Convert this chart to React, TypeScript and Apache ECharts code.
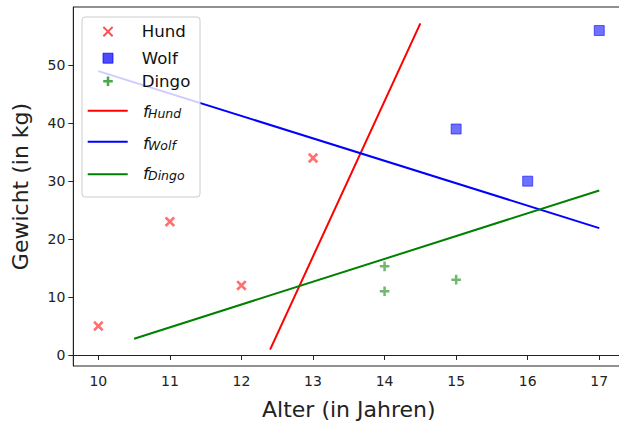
import React, { useEffect, useRef } from "react";
import * as echarts from "echarts";

// Data
const hundAge = [10, 11, 12, 13];
const hundWeight = [5, 23, 12, 34];
const wolfAge = [15, 16, 17];
const wolfWeight = [39, 30, 56];
const dingoAge = [14, 14, 15];
const dingoWeight = [15.3, 11, 13];

const fHundX = [12.4, 14.5];
const fHundY = [0.92, 57.24];
const fWolfX = [10, 17];
const fWolfY = [49.0, 21.9];
const fDingoX = [10.5, 17];
const fDingoY = [2.8, 28.4];

const xTicks = [10, 11, 12, 13, 14, 15, 16, 17];
const yTicks = [0, 10, 20, 30, 40, 50];

const xLabel = "Alter (in Jahren)";
const yLabel = "Gewicht (in kg)";
const legendNames = ["Hund", "Wolf", "Dingo"];
const fnSubs = ["Hund", "Wolf", "Dingo"];

const RED = "rgba(255,0,0,0.7)";
const BLUE = "rgba(0,0,255,0.7)";
const GREEN = "rgba(0,128,0,0.7)";
const FONT = "DejaVu Sans";

const X_PATH =
  "path://M0,1.8 L1.8,0 L5,3.2 L8.2,0 L10,1.8 L6.8,5 L10,8.2 L8.2,10 L5,6.8 L1.8,10 L0,8.2 L3.2,5 Z";
const PLUS_PATH = "path://M3.7,0 H6.3 V3.7 H10 V6.3 H6.3 V10 H3.7 V6.3 H0 V3.7 H3.7 Z";

const zip = (a: number[], b: number[]) => a.map((v, i) => [v, b[i]]);

function xPolygon(cx: number, cy: number, h: number, t: number) {
  const pts = [
    [-h, -h + t], [-h + t, -h], [0, -t], [h - t, -h], [h, -h + t], [t, 0],
    [h, h - t], [h - t, h], [0, t], [-h + t, h], [-h, h - t], [-t, 0],
  ];
  return pts.map(([x, y]) => [cx + x, cy + y]);
}
function plusPolygon(cx: number, cy: number, h: number, t: number) {
  const pts = [
    [-t, -h], [t, -h], [t, -t], [h, -t], [h, t], [t, t], [t, h], [-t, h],
    [-t, t], [-h, t], [-h, -t], [-t, -t],
  ];
  return pts.map(([x, y]) => [cx + x, cy + y]);
}

export default function App() {
  const ref = useRef<HTMLDivElement>(null);
  useEffect(() => {
    if (!ref.current) return;
    const chart = echarts.init(ref.current, undefined, { renderer: "svg" });

    const mx = 108;
    const rowY = [31.6, 58.2, 81.2];
    const lineRowY = [110.7, 141.7, 174.3];
    const fBase = [117.5, 149.5, 179.2];
    const lineColors = ["#ff0000", "#0000ff", "#008000"];
    const Z = 100;

    const legendChildren: any[] = [
      {
        type: "rect",
        z: Z,
        shape: { x: 82, y: 17, width: 118, height: 180, r: 3 },
        style: { fill: "rgba(255,255,255,0.8)", stroke: "#cccccc", lineWidth: 1 },
      },
      {
        type: "polygon",
        z: Z + 1,
        shape: { points: xPolygon(mx, rowY[0], 5.3, 1.35) },
        style: { fill: RED },
      },
      {
        type: "rect",
        z: Z + 1,
        shape: { x: mx - 5, y: rowY[1] - 5, width: 10, height: 10 },
        style: { fill: BLUE, stroke: BLUE, lineWidth: 1 },
      },
      {
        type: "polygon",
        z: Z + 1,
        shape: { points: plusPolygon(mx, rowY[2], 4.8, 1.3) },
        style: { fill: GREEN },
      },
    ];
    legendNames.forEach((n, i) => {
      legendChildren.push({
        type: "text",
        z: Z + 1,
        x: 141.7,
        y: rowY[i],
        style: {
          text: n,
          font: `16.6px "${FONT}"`,
          fill: "#111",
          verticalAlign: "middle",
          align: "left",
        },
      });
    });
    fnSubs.forEach((s, i) => {
      legendChildren.push({
        type: "line",
        z: Z + 1,
        shape: { x1: 87.7, y1: lineRowY[i], x2: 127.7, y2: lineRowY[i] },
        style: { stroke: lineColors[i], lineWidth: 2 },
      });
      legendChildren.push({
        type: "text",
        z: Z + 1,
        x: 143,
        y: fBase[i] - 0.346 * 16.6,
        style: {
          text: "f",
          font: `italic 16.6px "${FONT}"`,
          fill: "#111",
          verticalAlign: "middle",
          align: "left",
        },
      });
      legendChildren.push({
        type: "text",
        z: Z + 1,
        x: 148,
        y: fBase[i] + 0.5 - 0.346 * 12.5,
        style: {
          text: s,
          font: `italic 12.5px "${FONT}"`,
          fill: "#111",
          verticalAlign: "middle",
          align: "left",
        },
      });
    });

    const option: any = {
      animation: false,
      backgroundColor: "#ffffff",
      textStyle: { fontFamily: FONT },
      grid: {
        left: 73.3,
        top: 7,
        width: 551,
        height: 359,
        show: true,
        borderColor: "#222",
        borderWidth: 1,
        backgroundColor: "transparent",
      },
      xAxis: {
        type: "value",
        min: 9.65,
        max: 17.35,
        name: xLabel,
        nameLocation: "middle",
        nameGap: 32,
        nameTextStyle: { fontSize: 22, color: "#222", fontFamily: FONT },
        axisLine: { show: true, lineStyle: { color: "#222", width: 1 } },
        axisTick: { show: true, length: 5, customValues: xTicks, lineStyle: { color: "#222" } },
        axisLabel: { customValues: xTicks, fontSize: 14, color: "#222", margin: 8, fontFamily: FONT },
        splitLine: { show: false },
      },
      yAxis: {
        type: "value",
        min: -1.9,
        max: 60.06,
        name: yLabel,
        nameLocation: "middle",
        nameRotate: 90,
        nameGap: 42,
        nameTextStyle: { fontSize: 22, color: "#222", fontFamily: FONT },
        axisLine: { show: true, lineStyle: { color: "#222", width: 1 } },
        axisTick: { show: true, length: 5, customValues: yTicks, lineStyle: { color: "#222" } },
        axisLabel: { customValues: yTicks, fontSize: 14, color: "#222", margin: 8, fontFamily: FONT },
        splitLine: { show: false },
      },
      series: [
        {
          name: "Hund",
          type: "scatter",
          data: zip(hundAge, hundWeight),
          symbol: X_PATH,
          symbolSize: 10.5,
          itemStyle: { color: RED },
        },
        {
          name: "Wolf",
          type: "scatter",
          data: zip(wolfAge, wolfWeight),
          symbol: "rect",
          symbolSize: 10,
          itemStyle: { color: BLUE, borderColor: BLUE, borderWidth: 1 },
        },
        {
          name: "Dingo",
          type: "scatter",
          data: zip(dingoAge, dingoWeight),
          symbol: PLUS_PATH,
          symbolSize: 9.6,
          itemStyle: { color: GREEN },
        },
        {
          name: "f_Hund",
          type: "line",
          data: zip(fHundX, fHundY),
          showSymbol: false,
          lineStyle: { color: "#ff0000", width: 2 },
        },
        {
          name: "f_Wolf",
          type: "line",
          data: zip(fWolfX, fWolfY),
          showSymbol: false,
          lineStyle: { color: "#0000ff", width: 2 },
        },
        {
          name: "f_Dingo",
          type: "line",
          data: zip(fDingoX, fDingoY),
          showSymbol: false,
          lineStyle: { color: "#008000", width: 2 },
        },
      ],
      graphic: legendChildren,
    };
    chart.setOption(option);
    return () => chart.dispose();
  }, []);

  return (
    <div
      style={{
        position: "fixed",
        left: 0,
        top: 0,
        width: 619,
        height: 428,
        overflow: "hidden",
        background: "#fff",
      }}
    >
      <div ref={ref} style={{ width: 626, height: 428 }} />
    </div>
  );
}
